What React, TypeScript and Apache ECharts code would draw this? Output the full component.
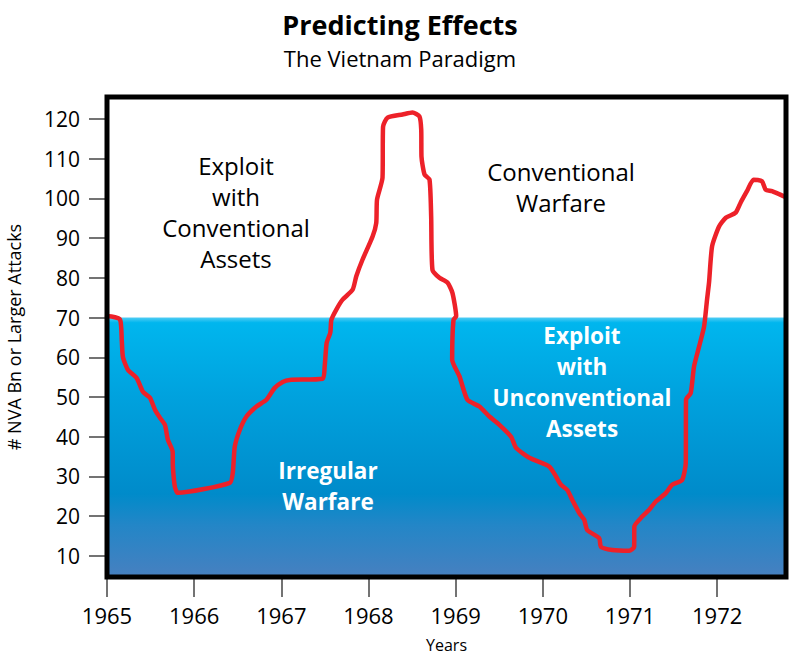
import React, { useEffect, useRef } from "react";
import * as echarts from "echarts";

const years: number[] = [
  1965.0, 1965.023, 1965.149, 1965.17, 1965.183, 1965.241, 1965.34, 1965.412, 1965.493, 1965.55,
  1965.607, 1965.664, 1965.699, 1965.753, 1965.756, 1965.779, 1965.813, 1966.409, 1966.443, 1966.466,
  1966.523, 1966.6, 1966.715, 1966.829, 1966.924, 1967.016, 1967.096, 1967.474, 1967.497, 1967.52,
  1967.562, 1967.574, 1967.631, 1967.703, 1967.818, 1967.86, 1967.932, 1968.047, 1968.089, 1968.098,
  1968.161, 1968.167, 1968.219, 1968.391, 1968.505, 1968.585, 1968.605, 1968.608, 1968.643, 1968.7,
  1968.719, 1968.734, 1968.814, 1968.906, 1968.963, 1969.006, 1968.975, 1968.96, 1969.044, 1969.135,
  1969.273, 1969.387, 1969.502, 1969.636, 1969.693, 1969.845, 1970.074, 1970.151, 1970.208, 1970.281,
  1970.338, 1970.418, 1970.475, 1970.51, 1970.647, 1970.667, 1970.796, 1970.991, 1971.048, 1971.05,
  1971.14, 1971.22, 1971.297, 1971.411, 1971.484, 1971.598, 1971.64, 1971.643, 1971.697, 1971.735,
  1971.793, 1971.85, 1971.884, 1971.907, 1971.942, 1972.022, 1972.099, 1972.213, 1972.269, 1972.342,
  1972.418, 1972.514, 1972.556, 1972.629, 1972.767,
];

const attacks: number[] = [
  70.3, 70.3, 69.5, 64, 60, 56.8, 54.8, 51.3, 49.8, 46.8,
  44.8, 43, 39.2, 36.3, 32.4, 27.4, 25.9, 28.4, 30.9, 37.5,
  41.7, 45.1, 47.6, 49.3, 52.3, 53.8, 54.3, 54.6, 57.6, 63.6,
  66.2, 69.4, 72, 74.5, 77, 80.4, 84.6, 90.4, 93.8, 99.7,
  105.2, 118, 120.3, 121.1, 121.6, 120.6, 117.3, 110.5, 106, 104.7,
  95.5, 82, 80, 78.8, 76.2, 70.3, 69.4, 59.4, 55.2, 49.3,
  47.6, 45.1, 43, 40, 37.2, 34.7, 32.5, 30, 27.9, 26.6,
  24.1, 20.8, 19.1, 16.5, 14.5, 12.3, 11.5, 11.3, 12.3, 17.4,
  19.9, 21.6, 23.7, 25.8, 27.9, 29.1, 33.4, 49.3, 51, 57.7,
  62.7, 67.7, 74.5, 78.8, 87.9, 92.9, 95.1, 96.4, 98.9, 101.8,
  104.7, 104.3, 102.2, 101.8, 100.5,
];

const yearTicks: number[] = [1965, 1966, 1967, 1968, 1969, 1970, 1971, 1972];
const attackTicks: number[] = [10, 20, 30, 40, 50, 60, 70, 80, 90, 100, 110, 120];
const thresholdValue = 70;

const titleText = "Predicting Effects";
const subtitleText = "The Vietnam Paradigm";
const xName = "Years";
const yName = "# NVA Bn or Larger Attacks";

const FONT = "'Open Sans', 'Noto Sans', sans-serif";

export default function App() {
  const ref = useRef<HTMLDivElement>(null);

  useEffect(() => {
    if (!ref.current) return;
    const chart = echarts.init(ref.current, null, { renderer: "svg" });
    const lineData = years.map((y, i) => [y, attacks[i]]);
    const xMin = 1965;
    const xMax = 1972.79;
    const yMin = 4.7;
    const yMax = 125.5;

    const option: any = {
      animation: false,
      backgroundColor: "#ffffff",
      textStyle: { fontFamily: FONT },
      grid: {
        left: 107,
        right: 4,
        top: 97,
        bottom: 80,
        outerBoundsMode: "none",
        containLabel: false,
        show: true,
        borderColor: "#000",
        borderWidth: 5,
        backgroundColor: "transparent",
        z: 10,
      },
      xAxis: {
        type: "value",
        min: xMin,
        max: xMax,
        name: xName,
        nameLocation: "middle",
        nameGap: 60,
        nameTextStyle: { fontFamily: FONT, fontSize: 16, color: "#000" },
        axisLine: { show: false, onZero: false },
        splitLine: { show: false },
        axisTick: {
          show: true,
          length: 20,
          customValues: yearTicks,
          lineStyle: { color: "#444", width: 1.5 },
        },
        axisLabel: {
          customValues: yearTicks,
          margin: 27,
          fontFamily: FONT,
          fontSize: 22,
          color: "#000",
          formatter: (v: number) => String(Math.round(v)),
        },
      },
      yAxis: {
        type: "value",
        min: yMin,
        max: yMax,
        name: yName,
        nameLocation: "middle",
        nameGap: 84,
        nameTextStyle: { fontFamily: FONT, fontSize: 18, color: "#000" },
        axisLine: { show: false, onZero: false },
        splitLine: { show: false },
        axisTick: {
          show: true,
          length: 18,
          customValues: attackTicks,
          lineStyle: { color: "#444", width: 1.5 },
        },
        axisLabel: {
          customValues: attackTicks,
          margin: 27,
          fontFamily: FONT,
          fontSize: 21,
          color: "#000",
          formatter: (v: number) => String(Math.round(v)),
        },
      },
      series: [
        {
          type: "line",
          data: [],
          z: 1,
          silent: true,
          markArea: {
            silent: true,
            itemStyle: {
              opacity: 1,
              color: new echarts.graphic.LinearGradient(0, 0, 0, 1, [
                { offset: 0, color: "#52cdf4" },
                { offset: 0.02, color: "#00b6ee" },
                { offset: 0.3, color: "#00a2de" },
                { offset: 0.68, color: "#008bca" },
                { offset: 0.8, color: "#2386c7" },
                { offset: 1, color: "#4780c0" },
              ]),
            },
            data: [[{ xAxis: xMin, yAxis: yMin }, { xAxis: xMax, yAxis: thresholdValue }]],
          },
        },
        {
          type: "line",
          data: lineData,
          z: 5,
          smooth: 0.2,
          showSymbol: false,
          symbol: "none",
          lineStyle: { color: "#ed2129", width: 4.5, cap: "round", join: "round" },
        },
      ],
      graphic: [
        {
          type: "text",
          x: 400,
          y: 24.5,
          z: 20,
          style: {
            text: titleText,
            fill: "#000",
            fontFamily: FONT,
            fontSize: 27,
            fontWeight: "bold",
            align: "center",
            verticalAlign: "middle",
          },
        },
        {
          type: "text",
          x: 400,
          y: 58,
          z: 20,
          style: {
            text: subtitleText,
            fill: "#000",
            fontFamily: FONT,
            fontSize: 22,
            align: "center",
            verticalAlign: "middle",
          },
        },
        {
          type: "text",
          x: 236,
          y: 212,
          z: 20,
          style: {
            text: "Exploit\nwith\nConventional\nAssets",
            fill: "#000",
            fontFamily: FONT,
            fontSize: 24,
            lineHeight: 31,
            align: "center",
            verticalAlign: "middle",
          },
        },
        {
          type: "text",
          x: 561,
          y: 187,
          z: 20,
          style: {
            text: "Conventional\nWarfare",
            fill: "#000",
            fontFamily: FONT,
            fontSize: 24,
            lineHeight: 31,
            align: "center",
            verticalAlign: "middle",
          },
        },
        {
          type: "text",
          x: 582,
          y: 382,
          z: 20,
          style: {
            text: "Exploit\nwith\nUnconventional\nAssets",
            fill: "#fff",
            fontFamily: FONT,
            fontSize: 22.5,
            fontWeight: "bold",
            lineHeight: 31,
            align: "center",
            verticalAlign: "middle",
          },
        },
        {
          type: "text",
          x: 328,
          y: 486,
          z: 20,
          style: {
            text: "Irregular\nWarfare",
            fill: "#fff",
            fontFamily: FONT,
            fontSize: 22.5,
            fontWeight: "bold",
            lineHeight: 31,
            align: "center",
            verticalAlign: "middle",
          },
        },
      ],
    };

    chart.setOption(option);
    return () => chart.dispose();
  }, []);

  return <div ref={ref} style={{ width: 790, height: 657, position: "absolute", left: 0, top: 0 }} />;
}
